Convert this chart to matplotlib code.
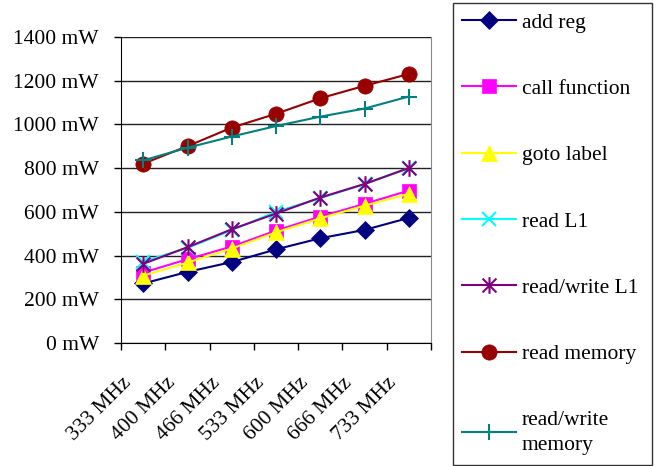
import matplotlib.pyplot as plt
import matplotlib.transforms as mtransforms
from matplotlib.path import Path
import numpy as np

plt.rcParams['font.family'] = ['Liberation Serif', 'DejaVu Serif']

freqs = ['333 MHz', '400 MHz', '466 MHz', '533 MHz', '600 MHz', '666 MHz', '733 MHz']

add_reg = [272, 325, 370, 428, 479, 517, 572]
call_function = [322, 383, 441, 514, 578, 636, 697]
goto_label = [308, 368, 432, 506, 570, 628, 682]
read_l1 = [372, 435, 516, 600, 662, 727, 800]
read_write_l1 = [362, 438, 520, 592, 665, 727, 800]
read_memory = [820, 900, 985, 1048, 1119, 1176, 1230]
read_write_memory = [835, 893, 944, 992, 1035, 1072, 1127]

# asterisk: an "x" with a vertical bar through it
asterisk = Path([(-1, -1), (1, 1), (-1, 1), (1, -1), (0, -1.2), (0, 1.2)],
                [Path.MOVETO, Path.LINETO, Path.MOVETO, Path.LINETO,
                 Path.MOVETO, Path.LINETO])

series = [
    ('add reg', add_reg, '#000080', 'D', 9),
    ('call function', call_function, '#FF00FF', 's', 10),
    ('goto label', goto_label, '#FFFF00', '^', 11),
    ('read L1', read_l1, '#00FFFF', 'x', 10),
    ('read/write L1', read_write_l1, '#800080', asterisk, 12),
    ('read memory', read_memory, '#990000', 'o', 11),
    ('read/write\nmemory', read_write_memory, '#008080', '+', 12),
]

fig = plt.figure(figsize=(6.62, 4.66), dpi=100)
ax = fig.add_axes([0.183, 0.264, 0.468, 0.657])

x = np.arange(len(freqs))
for label, vals, color, marker, ms in series:
    thin = isinstance(marker, Path) or marker in ('x', '+')
    ax.plot(x, vals, color=color, marker=marker, markersize=ms, lw=1.5,
            markeredgewidth=1.5 if thin else 0.5,
            markeredgecolor=color, label=label, zorder=3)

ax.set_ylim(0, 1400)
ax.set_yticks(range(0, 1401, 200))
ax.set_yticklabels([f'{v} mW' for v in range(0, 1401, 200)], fontsize=15.5)
ax.yaxis.grid(True, color='#222222', lw=1)
ax.set_axisbelow(True)

ax.set_xlim(-0.5, len(freqs) - 0.5)
ax.set_xticks(np.arange(-0.5, len(freqs), 1.0))
ax.set_xticklabels([])
ax.set_xticks(x, minor=True)
ax.set_xticklabels(freqs, minor=True, rotation=45, ha='right', va='center',
                   rotation_mode='anchor', fontsize=15.5)
ax.tick_params(axis='x', which='minor', length=0, pad=27)
ax.tick_params(axis='both', which='major', length=5, width=1, direction='out')
ax.tick_params(axis='y', which='major', pad=11)

# nudge the slanted frequency labels a little to the left
shift = mtransforms.ScaledTranslation(-15 / 100, 0, fig.dpi_scale_trans)
for lbl in ax.get_xticklabels(minor=True):
    lbl.set_transform(lbl.get_transform() + shift)

ax.spines['top'].set_visible(False)
ax.spines['right'].set_color('#888888')
ax.spines['left'].set_color('black')
ax.spines['bottom'].set_color('black')

leg = fig.legend(loc='upper left', bbox_to_anchor=(0.684, 0.0, 0.301, 0.994),
                 mode='expand', fontsize=15.5,
                 frameon=True, fancybox=False, edgecolor='black',
                 handlelength=2.5, labelspacing=2.15, borderpad=0.45,
                 borderaxespad=0, handletextpad=0.25)
leg.get_frame().set_linewidth(1)
for txt in leg.get_texts():
    txt.set_linespacing(1.45)

fig.savefig('out.png', dpi=100)
